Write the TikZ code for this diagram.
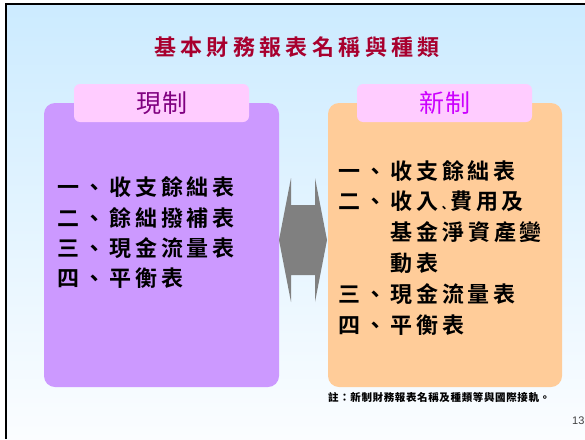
\documentclass[tikz,border=0pt]{standalone}
\usepackage{fontspec}
\newfontfamily\cjk{Noto Sans CJK TC}
\newfontfamily\cjkb[LetterSpace=18]{Noto Sans CJK TC Bold}
\newfontfamily\cjkt[LetterSpace=20]{Noto Sans CJK TC Bold}
\newfontfamily\cjkblack[LetterSpace=6]{Noto Sans CJK TC Black}
\newfontfamily\cjkl[LetterSpace=4]{Noto Sans CJK TC}
\setmainfont{Liberation Sans}
\definecolor{bgtop}{HTML}{CCEBFF}
\definecolor{bgbot}{HTML}{FBFDFF}
\definecolor{titlered}{HTML}{A8002E}
\definecolor{purplebox}{HTML}{CC99FF}
\definecolor{peachbox}{HTML}{FFCC99}
\definecolor{pinklabel}{HTML}{FFCCFF}
\definecolor{oldtxt}{HTML}{800080}
\definecolor{newtxt}{HTML}{CC00FF}
\definecolor{arrowgray}{HTML}{808080}
\begin{document}
\begin{tikzpicture}[x=1pt,y=-1pt,
  bigbox/.style={rounded corners=11pt},
  labelbox/.style={rounded corners=6pt, fill=pinklabel},
  item/.style={anchor=west, inner sep=0pt, font=\cjkb\fontsize{22}{24}\selectfont, text=black},
  lbl/.style={inner sep=0pt, font=\cjkl\fontsize{25}{28}\selectfont}
]
\useasboundingbox (0,0) rectangle (585,439);
\fill[white] (0,0) rectangle (585,439);
\shade[top color=bgtop, bottom color=bgbot] (6,4) rectangle (585,439);
\draw[line width=2.5pt, black] (6,439) -- (6,4) -- (585,4);

% title
\node[inner sep=0pt, text=titlered, font=\cjkt\fontsize{22}{24}\selectfont] (title) at (297,47) {基本財務報表名稱與種類};

% left box
\fill[purplebox, bigbox] (44,103) rectangle (279,387);
\fill[labelbox] (74,84) rectangle (249,122);
\node[lbl, text=oldtxt] (oldlbl) at (162,103) {現制};
\node[item] (l1) at (57,187) {一、收支餘絀表};
\node[item] (l2) at (57,218) {二、餘絀撥補表};
\node[item] (l3) at (57,248) {三、現金流量表};
\node[item] (l4) at (57,278) {四、平衡表};

% right box
\fill[peachbox, bigbox] (328,103) rectangle (562,387);
\fill[labelbox] (357,84) rectangle (532,122);
\node[lbl, text=newtxt] (newlbl) at (445,103) {新制};
\node[item] (r1) at (338,171) {一、收支餘絀表};
\node[item] (r2) at (338,202) {二、收入\raisebox{-3pt}{\fontsize{12}{12}\selectfont 、}費用及};
\node[item] (r3) at (390,232) {基金淨資產變};
\node[item] (r4) at (390,263) {動表};
\node[item] (r5) at (338,294) {三、現金流量表};
\node[item] (r6) at (338,325) {四、平衡表};

% double arrow
\fill[arrowgray] (291,178) -- (291,205) -- (315,205) -- (315,178) -- (327,240)
  -- (315,302) -- (315,275) -- (291,275) -- (291,302) -- (279,240) -- cycle;

% footnote
\node[anchor=west, inner sep=0pt, font=\cjkblack\fontsize{10.5}{12}\selectfont] (note) at (328,398) {註：新制財務報表名稱及種類等與國際接軌。};
\node[anchor=west, inner sep=0pt, text=black!75, font=\fontsize{11}{12}\selectfont] (page) at (572,421) {13};
\end{tikzpicture}
\end{document}
